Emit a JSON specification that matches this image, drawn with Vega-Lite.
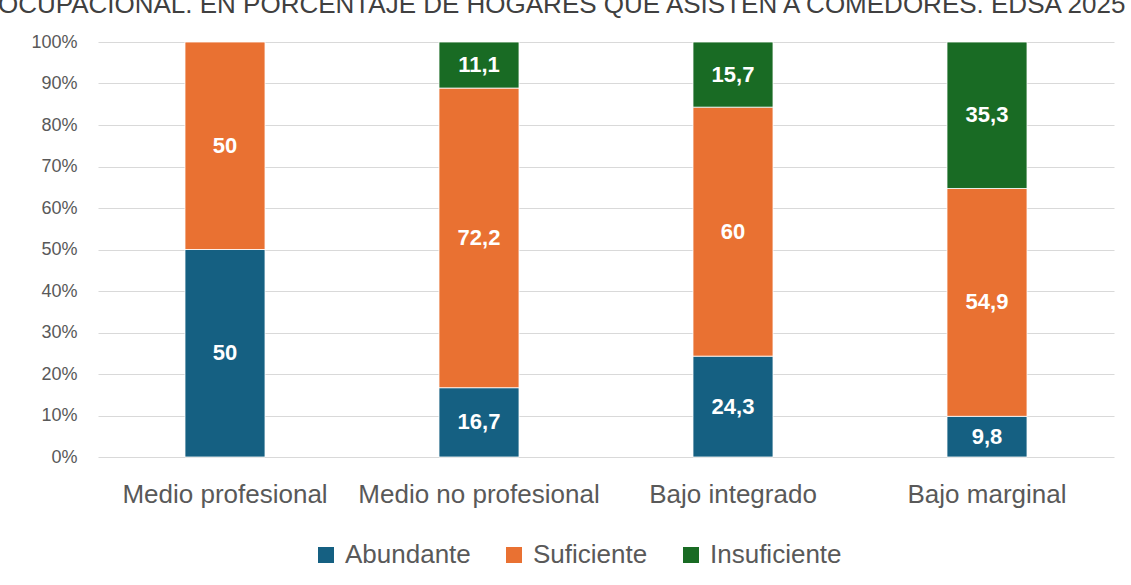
{
  "$schema": "https://vega.github.io/schema/vega-lite/v6.json",
  "width": 1016,
  "height": 415,
  "autosize": {"type": "none"},
  "padding": {"left": 98, "top": 42, "right": 17, "bottom": 128},
  "background": "white",
  "title": {
    "text": "OCUPACIONAL. EN PORCENTAJE DE HOGARES QUE ASISTEN A COMEDORES. EDSA 2025",
    "anchor": "start",
    "frame": "group",
    "font": "Liberation Sans",
    "fontSize": 26,
    "fontWeight": "normal",
    "color": "#404040",
    "baseline": "alphabetic",
    "dx": -100,
    "offset": -6
  },
  "data": {
    "values": [
      {"estrato": "Medio profesional", "nivel": "Abundante", "orden": 1, "value": 50, "label": "50"},
      {"estrato": "Medio profesional", "nivel": "Suficiente", "orden": 2, "value": 50, "label": "50"},
      {"estrato": "Medio no profesional", "nivel": "Abundante", "orden": 1, "value": 16.7, "label": "16,7"},
      {"estrato": "Medio no profesional", "nivel": "Suficiente", "orden": 2, "value": 72.2, "label": "72,2"},
      {"estrato": "Medio no profesional", "nivel": "Insuficiente", "orden": 3, "value": 11.1, "label": "11,1"},
      {"estrato": "Bajo integrado", "nivel": "Abundante", "orden": 1, "value": 24.3, "label": "24,3"},
      {"estrato": "Bajo integrado", "nivel": "Suficiente", "orden": 2, "value": 60, "label": "60"},
      {"estrato": "Bajo integrado", "nivel": "Insuficiente", "orden": 3, "value": 15.7, "label": "15,7"},
      {"estrato": "Bajo marginal", "nivel": "Abundante", "orden": 1, "value": 9.8, "label": "9,8"},
      {"estrato": "Bajo marginal", "nivel": "Suficiente", "orden": 2, "value": 54.9, "label": "54,9"},
      {"estrato": "Bajo marginal", "nivel": "Insuficiente", "orden": 3, "value": 35.3, "label": "35,3"}
    ]
  },
  "transform": [
    {"stack": "value", "groupby": ["estrato"], "sort": [{"field": "orden", "order": "ascending"}], "as": ["y0", "y1"]},
    {"calculate": "(datum.y0 + datum.y1) / 2", "as": "ymid"}
  ],
  "encoding": {
    "x": {
      "field": "estrato",
      "type": "nominal",
      "sort": ["Medio profesional", "Medio no profesional", "Bajo integrado", "Bajo marginal"],
      "scale": {"paddingInner": 0.685, "paddingOuter": 0.3425},
      "axis": {
        "title": null,
        "labelAngle": 0,
        "labelFont": "Liberation Sans",
        "labelFontSize": 26,
        "labelColor": "#595959",
        "labelLimit": 0,
        "ticks": false,
        "domain": false,
        "labelPadding": 24
      }
    }
  },
  "layer": [
    {
      "mark": {"type": "bar", "stroke": "white", "strokeWidth": 0.8},
      "encoding": {
        "y": {
          "field": "y0",
          "type": "quantitative",
          "scale": {"domain": [0, 100]},
          "axis": {
            "title": null,
            "values": [0, 10, 20, 30, 40, 50, 60, 70, 80, 90, 100],
            "labelExpr": "datum.value + '%'",
            "labelFont": "Liberation Sans",
            "labelFontSize": 18,
            "labelColor": "#595959",
            "ticks": false,
            "domain": false,
            "labelPadding": 21,
            "gridColor": "#d9d9d9",
            "gridWidth": 1.2
          }
        },
        "y2": {"field": "y1"},
        "color": {
          "field": "nivel",
          "type": "nominal",
          "sort": ["Abundante", "Suficiente", "Insuficiente"],
          "scale": {"domain": ["Abundante", "Suficiente", "Insuficiente"], "range": ["#156082", "#E97132", "#196B24"]},
          "legend": {
            "title": null,
            "orient": "none",
            "direction": "horizontal",
            "legendX": 215,
            "legendY": 500,
            "symbolType": "square",
            "symbolSize": 256,
            "symbolStrokeWidth": 0,
            "labelFont": "Liberation Sans",
            "labelFontSize": 26,
            "labelColor": "#595959",
            "labelOffset": 6,
            "columnPadding": 30
          }
        }
      }
    },
    {
      "mark": {"type": "text", "color": "white", "font": "Liberation Sans", "fontSize": 22, "fontWeight": "bold", "baseline": "middle"},
      "encoding": {
        "y": {"field": "ymid", "type": "quantitative"},
        "text": {"field": "label"}
      }
    }
  ],
  "config": {"view": {"stroke": null}}
}
